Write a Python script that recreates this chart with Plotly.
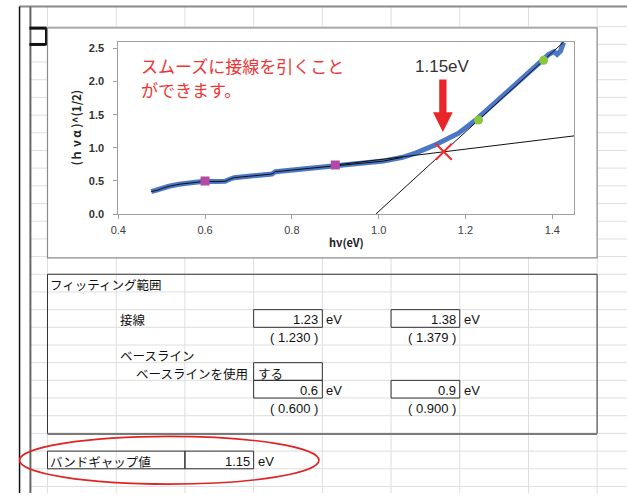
import plotly.graph_objects as go

W, H = 627, 499

# ---------------- data ----------------
hv = [0.476, 0.490, 0.502, 0.517, 0.540, 0.578, 0.600, 0.623, 0.646, 0.658, 0.667,
      0.700, 0.730, 0.754, 0.762, 0.800, 0.850, 0.900, 0.950, 1.011, 1.055, 1.085,
      1.131, 1.184, 1.226, 1.275, 1.328, 1.373, 1.392, 1.404, 1.411, 1.419, 1.426]
val = [0.34, 0.36, 0.39, 0.42, 0.45, 0.48, 0.495, 0.49, 0.495, 0.53, 0.55,
       0.57, 0.59, 0.605, 0.64, 0.665, 0.69, 0.73, 0.76, 0.80, 0.857, 0.92,
       1.045, 1.22, 1.433, 1.716, 2.04, 2.29, 2.41, 2.45, 2.41, 2.46, 2.59]

baseline_x = [0.6, 0.9]
baseline_y = [0.50, 0.74]
tangent_x = [1.23, 1.38]
tangent_y = [1.42, 2.32]

x_ticks = [0.4, 0.6, 0.8, 1.0, 1.2, 1.4]
x_ticklabels = ["0.4", "0.6", "0.8", "1.0", "1.2", "1.4"]
y_ticks = [0.0, 0.5, 1.0, 1.5, 2.0, 2.5]
x_range = [0.4, 1.45]
y_range = [0.0, 2.6]

band_gap = 1.15
tangent_range = ["1.23", "1.38"]
tangent_exact = ["( 1.230 )", "( 1.379 )"]
baseline_range = ["0.6", "0.9"]
baseline_exact = ["( 0.600 )", "( 0.900 )"]

# ---------------- derived fit lines ----------------
b_slope = (baseline_y[1] - baseline_y[0]) / (baseline_x[1] - baseline_x[0])
b_int = baseline_y[0] - b_slope * baseline_x[0]
t_slope = (tangent_y[1] - tangent_y[0]) / (tangent_x[1] - tangent_x[0])
t_int = tangent_y[0] - t_slope * tangent_x[0]
x_cross = (b_int - t_int) / (t_slope - b_slope)
y_cross = b_slope * x_cross + b_int

bl_x = [baseline_x[1], x_range[1]]
bl_y = [b_slope * v + b_int for v in bl_x]
tl_x = [(y_range[0] - t_int) / t_slope, (y_range[1] - t_int) / t_slope]
tl_y = [t_slope * v + t_int for v in tl_x]

ov_x = [a for a in hv if a <= 1.06]
ov_y = [b for a, b in zip(hv, val) if a <= 1.06]

# ---------------- helpers (pixel -> paper) ----------------
def px(x):
    return x / W


def py(y):
    return 1 - y / H


shapes = []


def line(x0, y0, x1, y1, color, width, layer="below"):
    shapes.append(dict(type="line", xref="paper", yref="paper",
                       x0=px(x0), y0=py(y0), x1=px(x1), y1=py(y1),
                       line=dict(color=color, width=width), layer=layer))


def rect(x0, y0, x1, y1, color, width, fill="rgba(0,0,0,0)", layer="below"):
    shapes.append(dict(type="rect", xref="paper", yref="paper",
                       x0=px(x0), y0=py(y0), x1=px(x1), y1=py(y1),
                       line=dict(color=color, width=width), fillcolor=fill, layer=layer))


GRID = "#dedede"
col_x = [40 + 69.6 * j for j in range(9)]
row_y = [27 + 17.9 * k for k in range(27)]

for y in row_y:
    line(22.7, y, W, y, GRID, 1)
for x in col_x:
    line(x, 6.7, x, H, GRID, 1)

# sheet edges
line(11.7, 6.7, W, 6.7, "#8a8a8a", 2)
line(11.7, 6.7, 11.7, H, "#111111", 1.5)
line(22.7, 6.7, 22.7, H, "#666666", 2)
# active-cell marker
line(21.7, 28.5, 39, 28.5, "#111111", 3)
line(21.7, 45, 38, 45, "#111111", 3)
line(38.5, 28, 38.5, 46, "#111111", 2)

# chart frame
rect(40, 28.3, 596.7, 261, "#8c8c8c", 1.2, fill="white")

# table box
rect(40, row_y[14], 596.7, row_y[23], "#333333", 1)
line(40, row_y[23] + 0.5, 596.7, row_y[23] + 0.5, "#7a7a7a", 2)

# value cells
def cell_box(c, r):
    rect(col_x[c], row_y[r], col_x[c + 1], row_y[r + 1], "#333333", 1)

cell_box(3, 16)
cell_box(5, 16)
cell_box(3, 19)
cell_box(3, 20)
cell_box(5, 20)
# band gap cells
rect(col_x[0], row_y[24], col_x[2], row_y[25], "#333333", 1)
rect(col_x[2], row_y[24], col_x[3], row_y[25], "#333333", 1)

# red arrow
ax = 440.5
shapes.append(dict(type="path", xref="paper", yref="paper",
                   path=(f"M {px(ax-3.7)},{py(80.5)} L {px(ax+3.7)},{py(80.5)} "
                         f"L {px(ax+3.7)},{py(113.5)} L {px(ax+10)},{py(113.5)} "
                         f"L {px(ax)},{py(133.5)} L {px(ax-10)},{py(113.5)} "
                         f"L {px(ax-3.7)},{py(113.5)} Z"),
                   fillcolor="#e8262a", line=dict(width=0), layer="above"))

# red ellipse
shapes.append(dict(type="circle", xref="paper", yref="paper",
                   x0=px(11.7), x1=px(315), y0=py(441.7), y1=py(490),
                   line=dict(color="#e02424", width=1.6), layer="above"))

# ---------------- annotations ----------------
JP = "Noto Sans CJK JP"
NUM = "Liberation Sans"
annotations = []


def text(x, y, s, size=12.5, color="#111111", xanchor="left", family=JP, bold=False):
    annotations.append(dict(xref="paper", yref="paper", x=px(x), y=py(y), text=s,
                            showarrow=False, xanchor=xanchor, yanchor="middle",
                            font=dict(family=family, size=size, color=color,
                                      weight="bold" if bold else "normal")))


def rowc(r):
    return (row_y[r] + row_y[r + 1]) / 2 + 1.5


text(41, rowc(14), "フィッティング範囲")
text(111.5, rowc(16), "接線")
text(col_x[4] - 2, rowc(16), tangent_range[0], xanchor="right", size=13, family=NUM)
text(col_x[4] + 2, rowc(16), "eV", size=13, family=NUM)
text(col_x[4] - 2, rowc(17), tangent_exact[0], xanchor="right", size=13, family=NUM)
text(col_x[6] - 2, rowc(16), tangent_range[1], xanchor="right", size=13, family=NUM)
text(col_x[6] + 2, rowc(16), "eV", size=13, family=NUM)
text(col_x[6] - 2, rowc(17), tangent_exact[1], xanchor="right", size=13, family=NUM)
text(111.5, rowc(18), "ベースライン")
text(col_x[3] - 4, rowc(19), "ベースラインを使用", xanchor="right")
text(col_x[3] + 2, rowc(19), "する")
text(col_x[4] - 2, rowc(20), baseline_range[0], xanchor="right", size=13, family=NUM)
text(col_x[4] + 2, rowc(20), "eV", size=13, family=NUM)
text(col_x[4] - 2, rowc(21), baseline_exact[0], xanchor="right", size=13, family=NUM)
text(col_x[6] - 2, rowc(20), baseline_range[1], xanchor="right", size=13, family=NUM)
text(col_x[6] + 2, rowc(20), "eV", size=13, family=NUM)
text(col_x[6] - 2, rowc(21), baseline_exact[1], xanchor="right", size=13, family=NUM)
text(41, rowc(24), "バンドギャップ値")
text(col_x[3] - 2, rowc(24), f"{band_gap:.2f}", xanchor="right", size=13, family=NUM)
text(col_x[3] + 2, rowc(24), "eV", size=13, family=NUM)

# chart texts
text(133, 66, "スムーズに接線を引くこと", size=17, color="#ee3535")
text(133, 91, "ができます。", size=17, color="#ee3535")
text(440, 67, f"{x_cross:.2f}eV", size=17, color="#333333", xanchor="center",
     family=NUM)
text(342.5, 245, "hν(eV)", size=11, color="#222222", xanchor="center", bold=True)
annotations.append(dict(xref="paper", yref="paper", x=px(68.5), y=py(129.5),
                        text="(ｈ ν α )^(1/2)", showarrow=False, textangle=-90,
                        xanchor="center", yanchor="middle",
                        font=dict(family=JP, size=11.5, color="#222222", weight="bold")))

# ---------------- traces ----------------
fig = go.Figure()
fig.add_trace(go.Scatter(x=hv, y=val, mode="lines",
                         line=dict(color="#4a77c6", width=5), hoverinfo="skip"))
fig.add_trace(go.Scatter(x=ov_x, y=ov_y, mode="lines",
                         line=dict(color="#111111", width=1), hoverinfo="skip"))
fig.add_trace(go.Scatter(x=bl_x, y=bl_y, mode="lines",
                         line=dict(color="#111111", width=1), hoverinfo="skip"))
fig.add_trace(go.Scatter(x=tl_x, y=tl_y, mode="lines",
                         line=dict(color="#111111", width=1), hoverinfo="skip"))
fig.add_trace(go.Scatter(x=baseline_x, y=baseline_y, mode="markers",
                         marker=dict(symbol="square", size=9, color="#b24aa6"),
                         hoverinfo="skip"))
fig.add_trace(go.Scatter(x=tangent_x, y=tangent_y, mode="markers",
                         marker=dict(symbol="circle", size=9, color="#8cc63f"),
                         hoverinfo="skip"))
fig.add_trace(go.Scatter(x=[x_cross], y=[y_cross], mode="markers",
                         marker=dict(symbol="x-thin", size=16,
                                     line=dict(color="#ee2b2b", width=2)),
                         hoverinfo="skip"))

axis_common = dict(showline=True, mirror=True, linecolor="#a0a0a0", linewidth=1,
                   ticks="outside", ticklen=4, tickcolor="#a0a0a0",
                   showgrid=False, zeroline=False)

fig.update_layout(
    width=W, height=H, autosize=False,
    margin=dict(l=0, r=0, t=0, b=0, pad=0),
    paper_bgcolor="white", plot_bgcolor="rgba(0,0,0,0)",
    showlegend=False,
    xaxis=dict(domain=[111.7 / W, 573.3 / W], range=x_range,
               tickvals=x_ticks, ticktext=x_ticklabels, ticklabelstandoff=2,
               tickfont=dict(family=NUM, size=11, color="#404040"),
               **axis_common),
    yaxis=dict(domain=[1 - 216.7 / H, 1 - 42.3 / H], range=y_range,
               tickvals=y_ticks, tickformat=".1f", ticklabelstandoff=7,
               tickfont=dict(family=NUM, size=11, color="#333333", weight="bold"),
               **axis_common),
    shapes=shapes,
    annotations=annotations,
)

fig.write_html("out.html", config={"displayModeBar": False},
               post_script="document.body.style.margin='0';"
                           "document.body.style.overflow='hidden';")
